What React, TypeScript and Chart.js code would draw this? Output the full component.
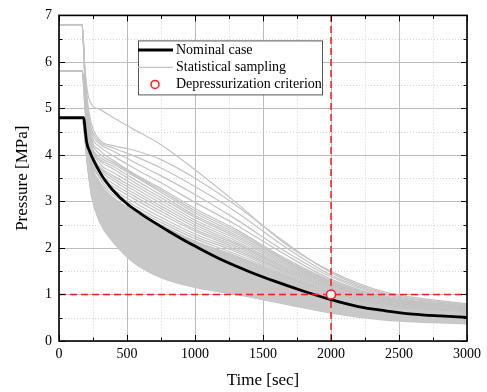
import { useEffect, useRef } from 'react';
import { Chart, registerables } from 'chart.js';

Chart.register(...registerables);

const SERIF = '"Liberation Serif", "Times New Roman", serif';

// ---------- data ----------
const X_TICKS = [0, 500, 1000, 1500, 2000, 2500, 3000];
const X_MINOR = [250, 750, 1250, 1750, 2250, 2750];
const Y_TICKS = [0, 1, 2, 3, 4, 5, 6, 7];
const Y_MINOR = [0.5, 1.5, 2.5, 3.5, 4.5, 5.5, 6.5];

const LABEL_NOMINAL = 'Nominal case';
const LABEL_SAMPLING = 'Statistical sampling';
const LABEL_CRITERION = 'Depressurization criterion';

const CRITERION_TIME = 2000;
const CRITERION_PRESSURE = 1;

const NOMINAL_TIME = [0, 182, 192, 203, 228, 260, 300, 340, 400, 500, 600, 700, 800, 900, 1000, 1200, 1400, 1600, 1800, 2000, 2200, 2400, 2600, 2800, 3000];
const NOMINAL_PRESSURE = [4.8, 4.8, 4.55, 4.28, 4.06, 3.85, 3.63, 3.45, 3.23, 2.95, 2.74, 2.55, 2.37, 2.2, 2.04, 1.74, 1.49, 1.27, 1.07, 0.89, 0.74, 0.65, 0.58, 0.54, 0.51];

const SAMPLE_TIME = [0, 170, 190, 210, 240, 300, 400, 550, 750, 1000, 1300, 1650, 2000, 2400, 3000];
const SAMPLE_01 = [6.8, 6.8, 5.9, 5.35, 5.08, 4.98, 4.8, 4.55, 4.22, 3.68, 2.98, 2.12, 1.5, 1.05, 0.8];
const SAMPLE_02 = [6.8, 6.8, 5.85, 5.15, 4.65, 4.32, 4.2, 4.1, 3.9, 3.5, 2.92, 2.15, 1.47, 1.02, 0.78];
const SAMPLE_03 = [5.8, 5.8, 5.4, 4.95, 4.55, 4.28, 4.15, 3.98, 3.72, 3.32, 2.78, 2.05, 1.42, 1.0, 0.77];
const SAMPLE_04 = [6.8, 6.8, 5.8, 5.05, 4.5, 4.24, 4.08, 3.85, 3.55, 3.15, 2.62, 1.95, 1.38, 0.97, 0.75];
const SAMPLE_05 = [5.8, 5.8, 5.35, 4.85, 4.4, 4.18, 3.98, 3.72, 3.4, 2.98, 2.5, 1.88, 1.33, 0.95, 0.74];
const SAMPLE_06 = [6.8, 6.8, 5.75, 4.95, 4.35, 4.1, 3.88, 3.6, 3.28, 2.85, 2.4, 1.8, 1.3, 0.93, 0.73];
const SAMPLE_07 = [5.8, 5.8, 5.3, 4.8, 4.28, 4.02, 3.84, 3.58, 3.24, 2.8, 2.36, 1.77, 1.28, 0.92, 0.72];
const SAMPLE_08 = [4.8, 4.8, 4.65, 4.4, 4.15, 3.95, 3.8, 3.55, 3.2, 2.75, 2.32, 1.75, 1.27, 0.91, 0.72];
const SAMPLE_09 = [4.8, 4.8, 4.62, 4.35, 4.08, 3.9, 3.75, 3.48, 3.14, 2.7, 2.28, 1.72, 1.25, 0.9, 0.71];
const SAMPLE_10 = [5.8, 5.8, 5.3, 4.75, 4.2, 3.88, 3.7, 3.42, 3.08, 2.66, 2.24, 1.69, 1.23, 0.89, 0.71];
const SAMPLE_11 = [6.8, 6.8, 5.7, 4.9, 4.2, 3.82, 3.62, 3.36, 3.02, 2.6, 2.2, 1.66, 1.21, 0.88, 0.7];
const SAMPLE_12 = [4.8, 4.8, 4.6, 4.32, 4.0, 3.75, 3.55, 3.3, 2.96, 2.55, 2.15, 1.63, 1.2, 0.87, 0.7];
const SAMPLE_13 = [4.8, 4.8, 4.6, 4.3, 3.95, 3.72, 3.5, 3.24, 2.9, 2.5, 2.11, 1.6, 1.18, 0.86, 0.69];
const SAMPLE_14 = [6.8, 6.8, 5.7, 4.85, 4.15, 3.7, 3.45, 3.18, 2.85, 2.45, 2.08, 1.58, 1.16, 0.85, 0.68];
const SAMPLE_15 = [5.8, 5.8, 5.25, 4.65, 4.0, 3.62, 3.38, 3.12, 2.79, 2.4, 2.04, 1.55, 1.14, 0.84, 0.67];
const SAMPLE_16 = [4.8, 4.8, 4.58, 4.25, 3.85, 3.55, 3.32, 3.06, 2.73, 2.36, 2.0, 1.52, 1.12, 0.82, 0.66];
const SAMPLE_17 = [4.8, 4.8, 4.56, 4.2, 3.8, 3.52, 3.26, 2.99, 2.66, 2.3, 1.96, 1.5, 1.1, 0.81, 0.65];
const SAMPLE_18 = [5.8, 5.8, 5.2, 4.6, 3.95, 3.5, 3.2, 2.92, 2.6, 2.25, 1.92, 1.47, 1.08, 0.8, 0.64];
const SAMPLE_19 = [4.8, 4.8, 4.54, 4.15, 3.75, 3.42, 3.14, 2.86, 2.55, 2.2, 1.87, 1.44, 1.06, 0.78, 0.63];
const SAMPLE_20 = [4.8, 4.8, 4.55, 4.15, 3.7, 3.38, 3.08, 2.8, 2.5, 2.15, 1.83, 1.41, 1.04, 0.77, 0.62];
const SAMPLE_21 = [4.8, 4.8, 4.52, 4.1, 3.62, 3.25, 2.95, 2.68, 2.38, 2.06, 1.75, 1.36, 1.0, 0.74, 0.6];
const SAMPLE_22 = [6.8, 6.8, 5.6, 4.6, 3.75, 3.2, 2.85, 2.55, 2.27, 1.97, 1.67, 1.3, 0.97, 0.72, 0.58];
const SAMPLE_23 = [4.8, 4.8, 4.5, 4.02, 3.5, 3.05, 2.72, 2.45, 2.17, 1.88, 1.6, 1.25, 0.93, 0.69, 0.56];
const SAMPLE_24 = [5.8, 5.8, 5.1, 4.4, 3.6, 3.0, 2.62, 2.33, 2.06, 1.79, 1.53, 1.19, 0.9, 0.67, 0.54];
const SAMPLE_25 = [4.8, 4.8, 4.46, 3.95, 3.38, 2.9, 2.52, 2.23, 1.96, 1.71, 1.46, 1.13, 0.86, 0.64, 0.52];
const SAMPLE_26 = [4.8, 4.8, 4.44, 3.9, 3.3, 2.82, 2.42, 2.12, 1.86, 1.62, 1.38, 1.07, 0.82, 0.61, 0.49];
const SAMPLE_27 = [4.8, 4.8, 4.42, 3.85, 3.22, 2.74, 2.34, 2.02, 1.76, 1.52, 1.3, 1.02, 0.77, 0.57, 0.46];
const SAMPLE_28 = [5.8, 5.8, 5.0, 4.2, 3.35, 2.7, 2.26, 1.93, 1.66, 1.43, 1.22, 0.96, 0.72, 0.53, 0.43];
const SAMPLE_29 = [4.8, 4.8, 4.38, 3.8, 3.17, 2.64, 2.22, 1.84, 1.55, 1.32, 1.13, 0.88, 0.67, 0.5, 0.41];
const SAMPLE_30 = [4.8, 4.8, 4.36, 3.77, 3.13, 2.6, 2.16, 1.74, 1.43, 1.21, 1.05, 0.83, 0.63, 0.47, 0.39];
const SAMPLE_31 = [4.8, 4.8, 4.35, 3.75, 3.1, 2.55, 2.12, 1.68, 1.36, 1.15, 1.0, 0.8, 0.6, 0.45, 0.37];

const SAMPLES = [
  SAMPLE_01, SAMPLE_02, SAMPLE_03, SAMPLE_04, SAMPLE_05, SAMPLE_06, SAMPLE_07, SAMPLE_08,
  SAMPLE_09, SAMPLE_10, SAMPLE_11, SAMPLE_12, SAMPLE_13, SAMPLE_14, SAMPLE_15, SAMPLE_16,
  SAMPLE_17, SAMPLE_18, SAMPLE_19, SAMPLE_20, SAMPLE_21, SAMPLE_22, SAMPLE_23, SAMPLE_24,
  SAMPLE_25, SAMPLE_26, SAMPLE_27, SAMPLE_28, SAMPLE_29, SAMPLE_30, SAMPLE_31,
];
const DENSE_TOP = 19;    // SAMPLE_20
const DENSE_BOTTOM = 30; // SAMPLE_31

// ---------- styles ----------
const GRAY = '#c3c3c3';
const GRAY_FILL = '#c8c8c8';
const RED = '#ff1a1a';

const gridPlugin = {
  id: 'customGrid',
  beforeDatasetsDraw(chart: any) {
    const { ctx, chartArea, scales } = chart;
    const { left, right, top, bottom } = chartArea;
    const sx = scales.x, sy = scales.y;
    ctx.save();
    ctx.lineWidth = 1;
    ctx.strokeStyle = '#d6d6d6';
    ctx.setLineDash([1, 2]);
    X_MINOR.forEach((v) => {
      const p = Math.round(sx.getPixelForValue(v)) + 0.5;
      ctx.beginPath(); ctx.moveTo(p, top); ctx.lineTo(p, bottom); ctx.stroke();
    });
    Y_MINOR.forEach((v) => {
      const p = Math.round(sy.getPixelForValue(v)) + 0.5;
      ctx.beginPath(); ctx.moveTo(left, p); ctx.lineTo(right, p); ctx.stroke();
    });
    ctx.setLineDash([]);
    ctx.strokeStyle = '#bcbcbc';
    X_TICKS.forEach((v) => {
      const p = Math.round(sx.getPixelForValue(v)) + 0.5;
      ctx.beginPath(); ctx.moveTo(p, top); ctx.lineTo(p, bottom); ctx.stroke();
    });
    Y_TICKS.forEach((v) => {
      const p = Math.round(sy.getPixelForValue(v)) + 0.5;
      ctx.beginPath(); ctx.moveTo(left, p); ctx.lineTo(right, p); ctx.stroke();
    });
    ctx.restore();
  },
};

const framePlugin = {
  id: 'frame',
  afterDatasetsDraw(chart: any) {
    const { ctx, chartArea, scales } = chart;
    const { left, right, top, bottom } = chartArea;
    const sx = scales.x, sy = scales.y;
    ctx.save();
    ctx.strokeStyle = '#000';
    ctx.lineWidth = 1;
    const tickX = (vals: number[], len: number) => {
      vals.forEach((v) => {
        const p = Math.round(sx.getPixelForValue(v)) + 0.5;
        ctx.beginPath(); ctx.moveTo(p, bottom); ctx.lineTo(p, bottom - len); ctx.stroke();
        ctx.beginPath(); ctx.moveTo(p, top); ctx.lineTo(p, top + len); ctx.stroke();
      });
    };
    const tickY = (vals: number[], len: number) => {
      vals.forEach((v) => {
        const p = Math.round(sy.getPixelForValue(v)) + 0.5;
        ctx.beginPath(); ctx.moveTo(left, p); ctx.lineTo(left + len, p); ctx.stroke();
        ctx.beginPath(); ctx.moveTo(right, p); ctx.lineTo(right - len, p); ctx.stroke();
      });
    };
    tickX(X_TICKS, 6); tickX(X_MINOR, 3.5);
    tickY(Y_TICKS, 6); tickY(Y_MINOR, 3.5);
    ctx.lineWidth = 1.6;
    ctx.strokeRect(left, top, right - left, bottom - top);
    ctx.restore();
  },
};

const legendPlugin = {
  id: 'boxLegend',
  afterDraw(chart: any) {
    const { ctx, chartArea } = chart;
    const x0 = chartArea.left + 79;
    const y0 = chartArea.top + 25;
    const w = 184, h = 54;
    ctx.save();
    ctx.fillStyle = '#fff';
    ctx.fillRect(x0, y0, w, h);
    ctx.strokeStyle = '#555';
    ctx.lineWidth = 1;
    ctx.strokeRect(x0 + 0.5, y0 + 0.5, w, h);
    const rows = [y0 + 9.5, y0 + 27, y0 + 44];
    ctx.strokeStyle = '#000'; ctx.lineWidth = 3;
    ctx.beginPath(); ctx.moveTo(x0, rows[0]); ctx.lineTo(x0 + 35, rows[0]); ctx.stroke();
    ctx.strokeStyle = GRAY; ctx.lineWidth = 1.2;
    ctx.beginPath(); ctx.moveTo(x0, rows[1]); ctx.lineTo(x0 + 35, rows[1]); ctx.stroke();
    ctx.strokeStyle = RED; ctx.lineWidth = 1.5; ctx.fillStyle = '#fff';
    ctx.beginPath(); ctx.arc(x0 + 17, rows[2], 4, 0, Math.PI * 2); ctx.fill(); ctx.stroke();
    ctx.fillStyle = '#000';
    ctx.font = `14px ${SERIF}`;
    ctx.textBaseline = 'middle';
    ctx.textAlign = 'left';
    [LABEL_NOMINAL, LABEL_SAMPLING, LABEL_CRITERION].forEach((t, i) => {
      ctx.fillText(t, x0 + 38, rows[i]);
    });
    ctx.restore();
  },
};

export default function App() {
  const ref = useRef<HTMLCanvasElement>(null);

  useEffect(() => {
    if (!ref.current) return;
    const grayDatasets: any[] = SAMPLES.map((s, i) => ({
      type: 'line',
      label: LABEL_SAMPLING,
      data: SAMPLE_TIME.map((t, k) => ({ x: t, y: s[k] })),
      borderColor: GRAY,
      backgroundColor: GRAY_FILL,
      borderWidth: 1.2,
      pointRadius: 0,
      cubicInterpolationMode: 'monotone',
      fill: i === DENSE_TOP ? DENSE_BOTTOM : false,
      order: 10,
    }));

    const chart = new Chart(ref.current, {
      type: 'line',
      data: {
        datasets: [
          ...grayDatasets,
          {
            type: 'line',
            label: LABEL_NOMINAL,
            data: NOMINAL_TIME.map((t, k) => ({ x: t, y: NOMINAL_PRESSURE[k] })),
            borderColor: '#000',
            borderWidth: 2.8,
            pointRadius: 0,
            cubicInterpolationMode: 'monotone',
            fill: false,
            order: 2,
          },
          {
            type: 'line',
            label: 'criterion-h',
            data: [{ x: X_TICKS[0], y: CRITERION_PRESSURE }, { x: X_TICKS[X_TICKS.length - 1], y: CRITERION_PRESSURE }],
            borderColor: RED,
            borderWidth: 1.5,
            borderDash: [7, 4],
            pointRadius: 0,
            fill: false,
            order: 1,
          },
          {
            type: 'line',
            label: 'criterion-v',
            data: [{ x: CRITERION_TIME, y: Y_TICKS[0] }, { x: CRITERION_TIME, y: Y_TICKS[Y_TICKS.length - 1] }],
            borderColor: RED,
            borderWidth: 1.5,
            borderDash: [7, 4],
            pointRadius: 0,
            fill: false,
            order: 1,
          },
          {
            type: 'scatter',
            label: LABEL_CRITERION,
            data: [{ x: CRITERION_TIME, y: CRITERION_PRESSURE }],
            borderColor: RED,
            backgroundColor: '#fff',
            borderWidth: 1.5,
            pointRadius: 4.5,
            showLine: false,
            order: 0,
          },
        ] as any,
      },
      options: {
        animation: false,
        responsive: false,
        devicePixelRatio: 1,
        layout: { padding: { top: 13, right: 20, left: 0, bottom: 0 } },
        plugins: { legend: { display: false }, tooltip: { enabled: false } },
        scales: {
          x: {
            type: 'linear',
            min: 0,
            max: 3000,
            afterBuildTicks: (s: any) => { s.ticks = X_TICKS.map((v) => ({ value: v })); },
            afterFit: (s: any) => { s.height = 51; },
            grid: { display: false, drawTicks: false },
            border: { display: false },
            ticks: {
              autoSkip: false,
              maxRotation: 0,
              padding: 5,
              color: '#000',
              font: { family: SERIF, size: 14 },
              callback: (v: any) => String(v),
            },
            title: {
              display: true,
              text: 'Time [sec]',
              color: '#000',
              font: { family: SERIF, size: 17 },
              padding: { top: 0, bottom: 1 },
            },
          },
          y: {
            type: 'linear',
            min: 0,
            max: 7,
            afterBuildTicks: (s: any) => { s.ticks = Y_TICKS.map((v) => ({ value: v })); },
            afterFit: (s: any) => { s.width = 59; },
            grid: { display: false, drawTicks: false },
            border: { display: false },
            ticks: {
              autoSkip: false,
              padding: 7,
              color: '#000',
              font: { family: SERIF, size: 14 },
              callback: (v: any) => String(v),
            },
            title: {
              display: true,
              text: 'Pressure [MPa]',
              color: '#000',
              font: { family: SERIF, size: 17 },
              padding: { top: 12, bottom: 0 },
            },
          },
        },
      } as any,
      plugins: [gridPlugin, framePlugin, legendPlugin],
    });
    return () => chart.destroy();
  }, []);

  return (
    <div style={{ position: 'fixed', left: 0, top: 0, width: 487, height: 392, background: '#fff' }}>
      <canvas ref={ref} width={487} height={392} style={{ width: 487, height: 392, display: 'block' }} />
    </div>
  );
}
